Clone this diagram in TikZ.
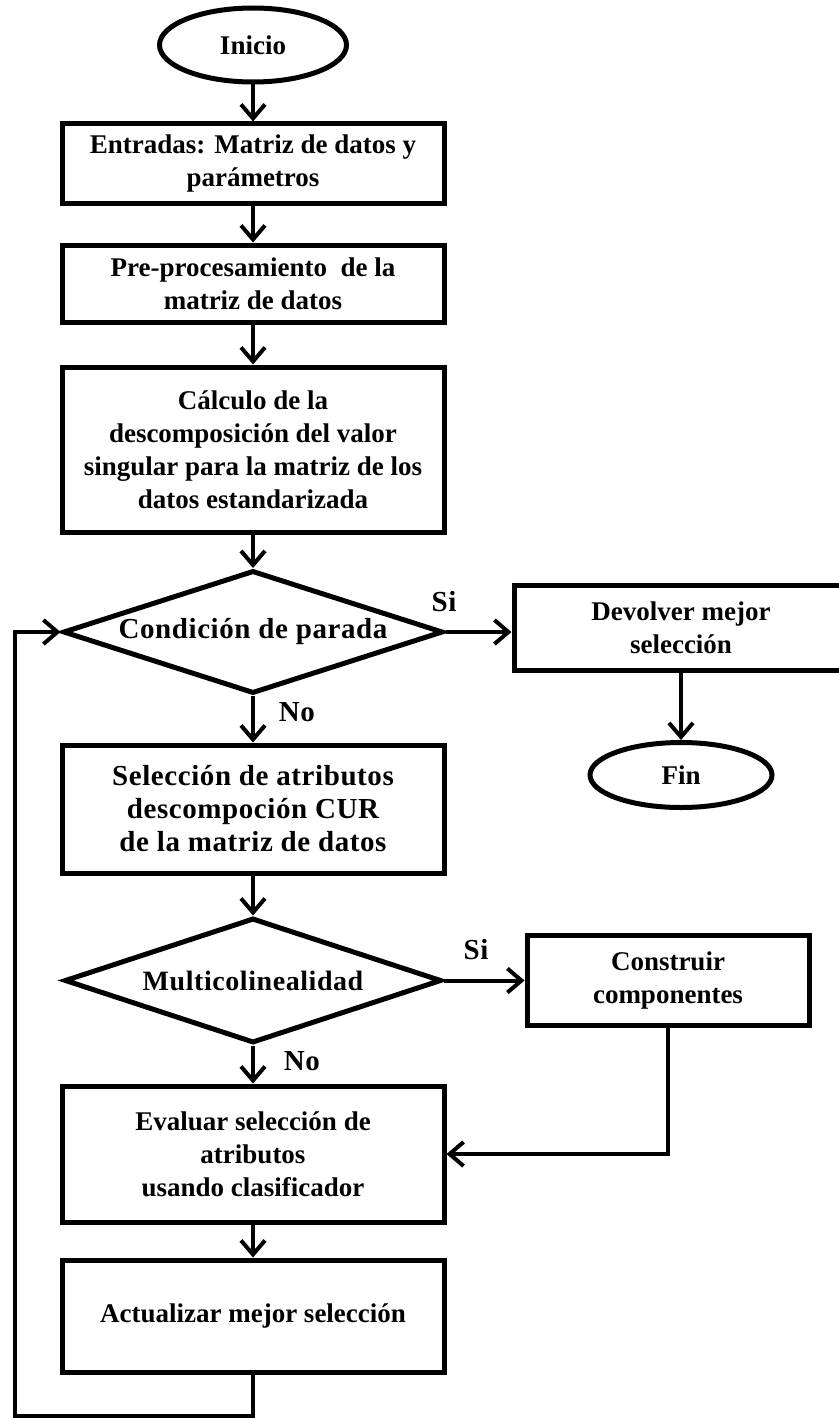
\documentclass[tikz,border=0pt]{standalone}
\usepackage{fontspec}
\setmainfont{Liberation Serif}
\usepackage{tikz}
\usetikzlibrary{positioning, arrows.meta, shapes.geometric}

\newcommand{\chartfont}{\fontsize{13.5}{16.5}\selectfont\bfseries}
\newcommand{\widefont}{\fontsize{14.5}{16.5}\selectfont\bfseries\addfontfeature{LetterSpace=2}}

\begin{document}
\begin{tikzpicture}[
  x=0.5pt, y=-0.5pt,
  terminal/.style={draw, ellipse, line width=2.5pt, inner sep=0pt,
    font=\chartfont},
  proc/.style={draw, line width=2.5pt, minimum width=191pt,
    align=center, inner sep=2pt, font=\chartfont},
  wideproc/.style={proc, font=\widefont},
  decision/.style={draw, diamond, aspect=3.1, line width=2.5pt,
    minimum width=190pt, minimum height=61.5pt, inner sep=0pt,
    font=\widefont},
  flow/.style={-{Straight Barb[length=7pt, width=12pt]}, line width=2pt},
  branchlabel/.style={font=\widefont, inner sep=1pt},
]
\useasboundingbox (0,0) rectangle (839,1418);

% ── Main column ──────────────────────────────────────────
\node[terminal, minimum width=93.5pt, minimum height=37pt]
  (inicio) at (253,45) {Inicio};
\node[proc, minimum height=39.5pt] (entradas) at (253,163.5)
  {Entradas: Matriz de datos y\\parámetros};
\node[proc, minimum height=38.5pt] (prepro) at (253,283.5)
  {Pre-procesamiento\ \ de la\\matriz de datos};
\node[proc, minimum height=82.5pt] (svd) at (253,449.5)
  {Cálculo de la\\descomposición del valor\\singular para la matriz de los\\datos estandarizada};
\node[decision] (parada) at (253,632) {Condición de parada};
\node[wideproc, minimum height=64pt] (cur) at (253,809)
  {Selección de atributos\\descompoción CUR\\de la matriz de datos};
\node[decision, minimum width=188.5pt, minimum height=62.5pt,
  font=\widefont\fontsize{14}{16}\selectfont] (multi) at (253,980.5)
  {Multicolinealidad};
\node[proc, minimum height=68pt] (evaluar) at (253,1154)
  {Evaluar selección de\\atributos\\usando clasificador};
\node[proc, minimum height=56pt] (actualizar) at (253,1316)
  {Actualizar mejor selección};

% ── Right column ─────────────────────────────────────────
\node[proc, minimum width=167pt, minimum height=42.5pt]
  (devolver) at (681,627.5) {Devolver mejor\\selección};
\node[terminal, minimum width=91pt, minimum height=32.5pt]
  (fin) at (681,775) {Fin};
\node[proc, minimum width=141pt, minimum height=45pt]
  (construir) at (668,980) {Construir\\componentes};

% Branch labels
\node[branchlabel] (si1) at (444,602) {Si};
\node[branchlabel] (no1) at (297,712) {No};
\node[branchlabel] (si2) at (476,950) {Si};
\node[branchlabel] (no2) at (302,1061) {No};

% ── Connectors ───────────────────────────────────────────
\draw[flow] (inicio) -- (entradas);
\draw[flow] (entradas) -- (prepro);
\draw[flow] (prepro) -- (svd);
\draw[flow] (svd) -- (parada);
\draw[flow] (parada.east) -- (parada.east -| devolver.west);
\draw[flow] (devolver) -- (fin);
\draw[flow] (parada) -- (cur);
\draw[flow] (cur) -- (multi);
\draw[flow] (multi.east) -- (multi.east -| construir.west);
\draw[flow] (multi) -- (evaluar);
\draw[flow] (construir.south) |- (evaluar.east);
\draw[flow] (evaluar) -- (actualizar);

% Loop back to the stop condition
\coordinate (retorno) at (15,1416);
\draw[flow] (actualizar.south) |- (retorno) |- (parada.west);

\end{tikzpicture}
\end{document}
